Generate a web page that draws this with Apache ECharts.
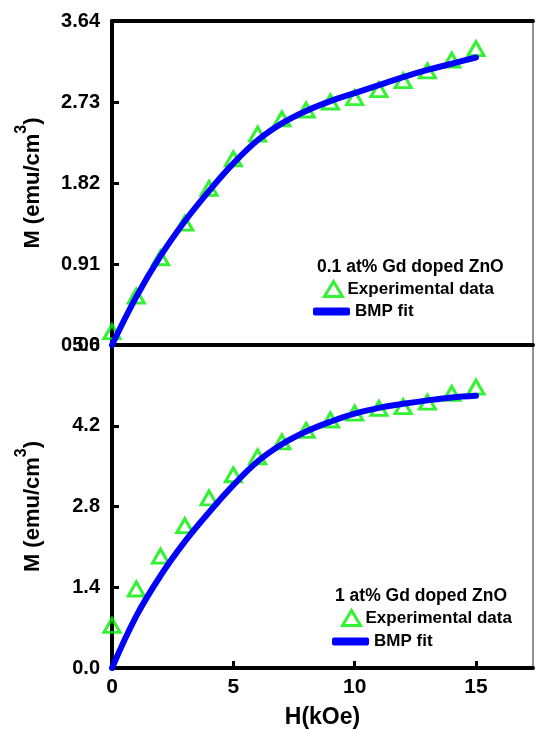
<!DOCTYPE html>
<html>
<head>
<meta charset="utf-8">
<script src="https://cdn.jsdelivr.net/npm/echarts@6/dist/echarts.min.js"></script>
<style>
html,body{margin:0;padding:0;background:#fff;}
#chart{width:536px;height:730px;}
</style>
</head>
<body>
<div id="chart"></div>
<script>
// Field H (kOe)
var H = [0,1,2,3,4,5,6,7,8,9,10,11,12,13,14,15];
// 0.1 at% Gd doped ZnO
var topExp = [0.15,0.55,0.98,1.37,1.76,2.09,2.37,2.54,2.64,2.73,2.78,2.87,2.97,3.08,3.20,3.33];
var topFit = [0,0.54,1.00,1.39,1.73,2.04,2.30,2.49,2.63,2.74,2.83,2.92,3.01,3.09,3.16,3.23];
// 1 at% Gd doped ZnO
var botExp = [0.74,1.37,1.94,2.47,2.95,3.35,3.66,3.92,4.12,4.30,4.42,4.50,4.53,4.61,4.76,4.87];
var botFit = [0,0.90,1.60,2.19,2.70,3.17,3.58,3.88,4.10,4.27,4.41,4.51,4.58,4.64,4.69,4.72];
var xTicks = [0,5,10,15];
var topYTicks = [0,0.91,1.82,2.73,3.64];
var botYTicks = [0,1.4,2.8,4.2,5.6];
var topTitle = '0.1 at% Gd doped ZnO';
var botTitle = '1 at% Gd doped ZnO';
var expName = 'Experimental data';
var fitName = 'BMP fit';
var xName = 'H(kOe)';

function pairs(xs, ys){ return xs.map(function(x,i){ return [x, ys[i]]; }); }

var FONT = '"Liberation Sans", Arial, sans-serif';
var GREEN = '#00ee00';
var BLUE = '#0000ff';

var yName = '{a|M (emu/cm}{s|3}{a|)}';
var yNameStyle = {
  color:'#000', fontFamily: FONT,
  rich: {
    a: {fontSize: 22, fontWeight: 'bold', fontFamily: FONT, color:'#000', lineHeight: 30, verticalAlign:'bottom'},
    s: {fontSize: 16, fontWeight: 'bold', fontFamily: FONT, color:'#000', lineHeight: 30, verticalAlign:'top'}
  }
};

var chart = echarts.init(document.getElementById('chart'), null, {renderer:'canvas'});

var legendCommon = {
  orient:'horizontal', padding:0, selectedMode:false,
  textStyle:{fontSize:17, fontWeight:'bold', fontFamily:FONT, color:'#000'}
};
function legend(extra){ return Object.assign({}, legendCommon, extra); }

var option = {
  animation:false,
  backgroundColor:'#fff',
  grid:[
    {left:112, right:3, top:21, height:324, show:true, borderColor:'#222', borderWidth:1},
    {left:112, right:3, top:345, height:324.5, show:true, borderColor:'#222', borderWidth:1}
  ],
  xAxis:[
    {gridIndex:0, type:'value', min:0, max:17.35, interval:5, position:'bottom',
     axisLine:{show:true, lineStyle:{color:'#000', width:4}}, axisTick:{show:false},
     axisLabel:{show:false}, splitLine:{show:false}},
    {gridIndex:0, type:'value', min:0, max:17.35, interval:5, position:'top',
     axisLine:{show:true, lineStyle:{color:'#000', width:4}}, axisTick:{show:false},
     axisLabel:{show:false}, splitLine:{show:false}},
    {gridIndex:1, type:'value', min:0, max:17.35, interval:5, position:'bottom',
     name:xName, nameLocation:'middle', nameGap:38,
     nameTextStyle:{fontSize:23, fontWeight:'bold', fontFamily:FONT, color:'#000'},
     axisLine:{show:true, lineStyle:{color:'#000', width:4}},
     axisTick:{show:true, inside:true, length:7, lineStyle:{color:'#000', width:3}, customValues:xTicks},
     axisLabel:{show:true, margin:9, fontSize:21, fontWeight:'bold', fontFamily:FONT, color:'#000', customValues:xTicks,
       formatter:function(v){return String(v);}},
     splitLine:{show:false}}
  ],
  yAxis:[
    {gridIndex:0, type:'value', min:0, max:3.64, interval:0.91,
     name:yName, nameLocation:'middle', nameGap:68, nameRotate:90, nameTextStyle:yNameStyle,
     axisLine:{show:true, lineStyle:{color:'#000', width:4}},
     axisTick:{show:true, inside:true, length:7, lineStyle:{color:'#000', width:3}, customValues:topYTicks},
     axisLabel:{show:true, margin:12, fontSize:20, fontWeight:'bold', fontFamily:FONT, color:'#000', customValues:topYTicks,
       formatter:function(v){return v.toFixed(2);}},
     splitLine:{show:false}},
    {gridIndex:1, type:'value', min:0, max:5.6, interval:1.4,
     name:yName, nameLocation:'middle', nameGap:68, nameRotate:90, nameTextStyle:yNameStyle,
     axisLine:{show:true, lineStyle:{color:'#000', width:4}},
     axisTick:{show:true, inside:true, length:7, lineStyle:{color:'#000', width:3}, customValues:botYTicks},
     axisLabel:{show:true, margin:12, fontSize:20, fontWeight:'bold', fontFamily:FONT, color:'#000', customValues:botYTicks,
       formatter:function(v){return v.toFixed(1);}},
     splitLine:{show:false}}
  ],
  legend:[
    legend({left:323, top:280, itemWidth:18, itemHeight:15, data:[{name:expName, icon:'triangle'}],
      itemStyle:{color:'rgba(0,0,0,0)', borderColor:GREEN, borderWidth:3}}),
    legend({left:313, top:303, itemWidth:37, itemHeight:8, data:[{name:fitName, icon:'roundRect'}],
      itemStyle:{color:BLUE, borderWidth:0}}),
    legend({left:341, top:609, itemWidth:18, itemHeight:15, data:[{name:expName, icon:'triangle'}],
      itemStyle:{color:'rgba(0,0,0,0)', borderColor:GREEN, borderWidth:3}}),
    legend({left:332, top:633, itemWidth:37, itemHeight:8, data:[{name:fitName, icon:'roundRect'}],
      itemStyle:{color:BLUE, borderWidth:0}})
  ],
  graphic:[
    {type:'text', left:317, top:258, z:100, style:{text:topTitle, font:'bold 17.5px ' + FONT, fill:'#000'}},
    {type:'text', left:335, top:587, z:100, style:{text:botTitle, font:'bold 17.5px ' + FONT, fill:'#000'}}
  ],
  series:[
    {name:expName, type:'scatter', xAxisIndex:0, yAxisIndex:0, data:pairs(H, topExp),
     symbol:'triangle', symbolSize:[16,14],
     itemStyle:{color:'rgba(0,0,0,0)', borderColor:GREEN, borderWidth:3}},
    {name:fitName, type:'line', xAxisIndex:0, yAxisIndex:0, data:pairs(H, topFit),
     smooth:0.4, showSymbol:false, symbol:'none',
     lineStyle:{color:BLUE, width:6, cap:'round'}, itemStyle:{color:BLUE}},
    {name:expName, type:'scatter', xAxisIndex:2, yAxisIndex:1, data:pairs(H, botExp),
     symbol:'triangle', symbolSize:[16,14],
     itemStyle:{color:'rgba(0,0,0,0)', borderColor:GREEN, borderWidth:3}},
    {name:fitName, type:'line', xAxisIndex:2, yAxisIndex:1, data:pairs(H, botFit),
     smooth:0.4, showSymbol:false, symbol:'none',
     lineStyle:{color:BLUE, width:6, cap:'round'}, itemStyle:{color:BLUE}}
  ]
};
chart.setOption(option);
</script>
</body>
</html>
